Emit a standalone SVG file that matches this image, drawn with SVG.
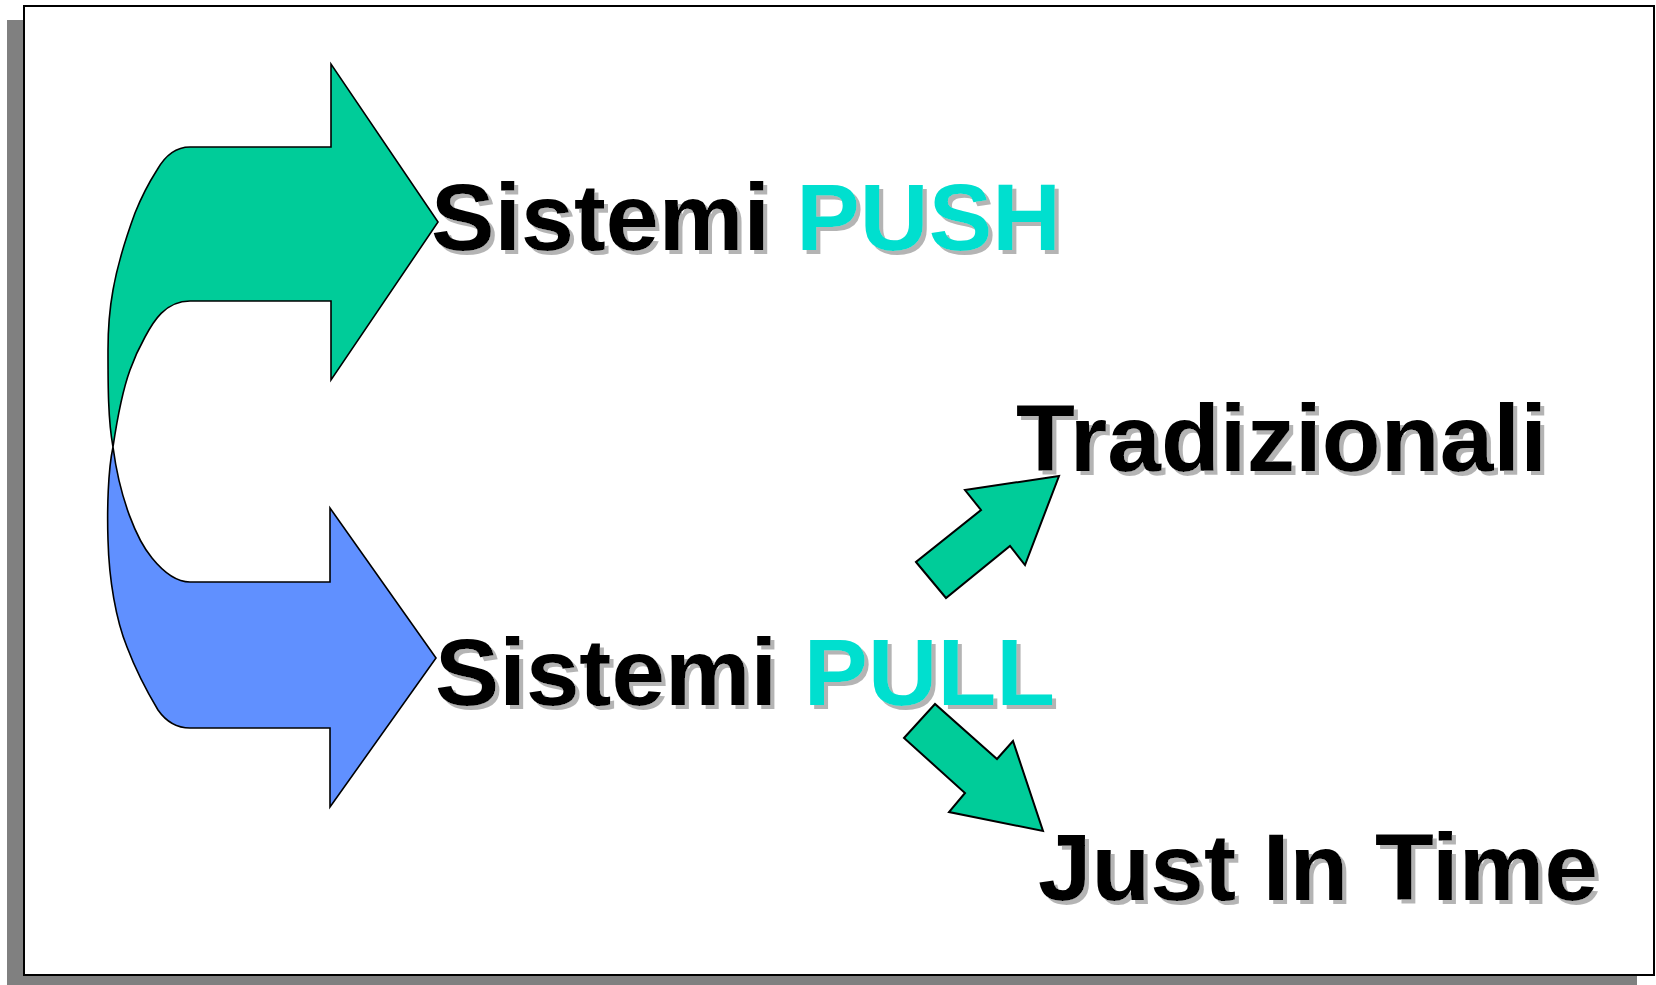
<svg xmlns="http://www.w3.org/2000/svg" width="1656" height="985" viewBox="0 0 1656 985">
  <style>
    .label { font-family: "Liberation Sans", Arial, sans-serif; font-weight: bold; font-size: 95px; fill: #000000; filter: url(#textShadow); }
    .accent { fill: #00DFCF; }
    .big { stroke: #000000; stroke-width: 1.6; stroke-linejoin: miter; }
    .small { fill: #00CC99; stroke: #000000; stroke-width: 2; stroke-linejoin: miter; }
  </style>
  <defs>
    <!-- light grey drop shadow behind the bold labels -->
    <filter id="textShadow" x="-5%" y="-10%" width="110%" height="130%">
      <feOffset in="SourceAlpha" dx="4" dy="4" result="off"/>
      <feFlood flood-color="#B4B4B4" result="grey"/>
      <feComposite in="grey" in2="off" operator="in" result="shadow"/>
      <feMerge>
        <feMergeNode in="shadow"/>
        <feMergeNode in="SourceGraphic"/>
      </feMerge>
    </filter>
  </defs>

  <!-- page frame with drop shadow -->
  <rect x="0" y="0" width="1656" height="985" fill="#FFFFFF"/>
  <rect x="7" y="20" width="1630" height="969" fill="#808080"/>
  <rect x="24" y="6" width="1630" height="969" fill="#FFFFFF" stroke="#000000" stroke-width="2"/>

  <!-- curved split arrows -->
  <g id="push-arrow">
    <path class="big" fill="#00CC99" d="M438,222 L331,64 L331,147 L190,147 C178,147 166,154 157,170 C150,181 141,198 135,213 C128,232 118,262 113,290 C109,312 108,330 108,350 C108,385 108,420 113,447 C117,420 122,392 130,370 C135,356 140,346 145,337 C153,322 165,301 190,301 L331,301 L331,380 Z"/>
  </g>
  <g id="pull-arrow">
    <path class="big" fill="#6090FF" d="M436,658 L330,508 L330,582 L190,582 C178,582 165,574 152,558 C137,540 120,500 113,447 C108,470 107,510 108,540 C109,580 116,620 127,647 C135,668 146,690 158,710 C165,720 175,728 190,728 L330,728 L330,807 Z"/>
  </g>

  <!-- labels -->
  <g id="push-label">
    <text class="label" x="431" y="250" textLength="630" lengthAdjust="spacingAndGlyphs">Sistemi <tspan class="accent">PUSH</tspan></text>
  </g>
  <g id="pull-label">
    <text class="label" x="435" y="705" textLength="620" lengthAdjust="spacingAndGlyphs">Sistemi <tspan class="accent">PULL</tspan></text>
  </g>
  <g id="tradizionali">
    <text class="label" x="1016" y="471" textLength="531" lengthAdjust="spacingAndGlyphs">Tradizionali</text>
  </g>
  <g id="jit">
    <text class="label" x="1038" y="900" textLength="560" lengthAdjust="spacingAndGlyphs">Just In Time</text>
  </g>

  <!-- branch arrows from PULL -->
  <g id="connectors">
    <polygon class="small" points="916,562 946,598 1010,546 1025,565 1059,476 965,490 981,510"/>
    <polygon class="small" points="935,704 904,738 965,793 949,812 1043,831 1013,741 997,759"/>
  </g>
</svg>
